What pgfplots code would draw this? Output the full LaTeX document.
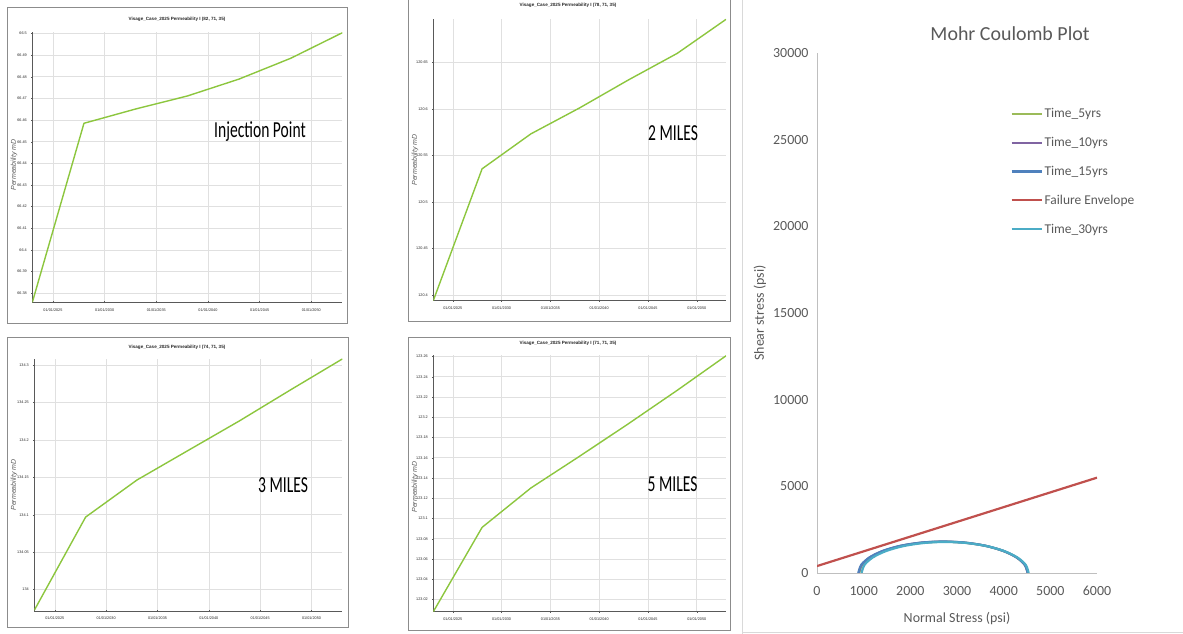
\documentclass[border=0pt]{standalone}
\usepackage{fontspec}
\setmainfont{Carlito}
\newfontfamily\arialfont{Liberation Sans}
\usepackage{pgfplots}
\pgfplotsset{compat=1.18}
\definecolor{permgreen}{HTML}{8CC63E}
\definecolor{xlgreen}{HTML}{9BBB59}
\definecolor{xlpurple}{HTML}{8064A2}
\definecolor{xlblue}{HTML}{4F81BD}
\definecolor{xlred}{HTML}{C0504D}
\definecolor{xlcyan}{HTML}{4BACC6}
\definecolor{xlgray}{HTML}{595959}
\pgfplotsset{
 perm/.style={
  scale only axis, axis lines=left, axis line style={draw=black!65, line width=0.5bp, -},
  grid=major, major grid style={draw=black!12, line width=0.6bp},
  tick style={draw=black!65, line width=0.4bp}, major tick length=2bp, tick align=center,
  xmin=2023, xmax=2053,
  xtick={2025,2030,2035,2040,2045,2050},
  xticklabels={01/01/2025,01/01/2030,01/01/2035,01/01/2040,01/01/2045,01/01/2050},
  tick label style={font=\arialfont\fontsize{3.8}{4}\selectfont, text=black!85},
  /pgf/number format/assume math mode=true,
  yticklabel style={/pgf/number format/fixed, /pgf/number format/precision=2, xshift=-1bp},
  xticklabel style={yshift=-1.5bp},
  scaled ticks=false,
 },
 pline/.style={permgreen, line width=1.4bp, no marks},
}
\begin{document}
\begin{tikzpicture}[x=1bp,y=1bp]
\path[use as bounding box] (0,0) rectangle (1183,634);
% frames
\draw[black!45, line width=0.8bp] (7,311) rectangle (347,627);
\draw[black!45, line width=0.8bp] (408,313) rectangle (730,640);
\draw[black!45, line width=0.8bp] (7,7) rectangle (348,297);
\draw[black!45, line width=0.8bp] (408,4) rectangle (730,297);
\draw[black!15, line width=0.8bp] (742,-5) rectangle (1190,2);
\draw[black!15, line width=0.8bp] (742,-5) -- (742,640);

% Panel 1
\begin{axis}[perm, at={(32.3bp,331.7bp)}, anchor=south west, width=310bp, height=270.6bp,
  ymin=66.37585, ymax=66.5008,
  ytick={66.38,66.39,66.4,66.41,66.42,66.43,66.44,66.45,66.46,66.47,66.48,66.49,66.5}]
\addplot[pline] coordinates {(2023,66.3758) (2028,66.4585) (2033,66.4651) (2038,66.4711) (2043,66.4789) (2048,66.4885) (2053,66.5003)};
\end{axis}
% Panel 2
\begin{axis}[perm, at={(433.3bp,333.3bp)}, anchor=south west, width=292.7bp, height=281.7bp,
  ymin=120.3942, ymax=120.6965,
  ytick={120.4,120.45,120.5,120.55,120.6,120.65}]
\addplot[pline] coordinates {(2023,120.3943) (2028,120.5357) (2033,120.5732) (2038,120.6011) (2043,120.6311) (2048,120.6596) (2053,120.6961)};
\end{axis}
% Panel 3
\begin{axis}[perm, at={(34.3bp,23bp)}, anchor=south west, width=308bp, height=252bp,
  ymin=133.9715, ymax=134.308,
  ytick={134,134.05,134.1,134.15,134.2,134.25,134.3}]
\addplot[pline] coordinates {(2023,133.9725) (2028,134.0969) (2033,134.1464) (2038,134.186) (2043,134.2255) (2048,134.2671) (2053,134.308)};
\end{axis}
% Panel 4
\begin{axis}[perm, at={(433.3bp,22.3bp)}, anchor=south west, width=292.7bp, height=256.7bp,
  ymin=123.0079, ymax=123.2615,
  ytick={123.02,123.04,123.06,123.08,123.1,123.12,123.14,123.16,123.18,123.2,123.22,123.24,123.26}]
\addplot[pline] coordinates {(2023,123.0079) (2028,123.0912) (2033,123.1301) (2038,123.1615) (2043,123.1936) (2048,123.2266) (2053,123.2607)};
\end{axis}

% panel titles
\node[font=\arialfont\bfseries\fontsize{4.6}{5}\selectfont, text=black!85] at (177,615) {Visage\_Case\_2025 Permeability I (82, 71, 35)};
\node[font=\arialfont\bfseries\fontsize{4.6}{5}\selectfont, text=black!85] at (568,629) {Visage\_Case\_2025 Permeability I (78, 71, 35)};
\node[font=\arialfont\bfseries\fontsize{4.6}{5}\selectfont, text=black!85] at (177,287) {Visage\_Case\_2025 Permeability I (74, 71, 35)};
\node[font=\arialfont\bfseries\fontsize{4.6}{5}\selectfont, text=black!85] at (568,291) {Visage\_Case\_2025 Permeability I (71, 71, 35)};
% y labels
\node[rotate=90, font=\arialfont\itshape\fontsize{7}{7}\selectfont, text=black!65] at (14,469) {Permeability mD};
\node[rotate=90, font=\arialfont\itshape\fontsize{7}{7}\selectfont, text=black!65] at (415,474) {Permeability mD};
\node[rotate=90, font=\arialfont\itshape\fontsize{7}{7}\selectfont, text=black!65] at (14,149) {Permeability mD};
\node[rotate=90, font=\arialfont\itshape\fontsize{7}{7}\selectfont, text=black!65] at (415,147) {Permeability mD};
% annotations
\node[anchor=base, font=\fontsize{23}{23}\selectfont, inner sep=0] at (260,496) {\scalebox{0.68}[1]{Injection Point}};
\node[anchor=base, font=\fontsize{23}{23}\selectfont, inner sep=0] at (673,493) {\scalebox{0.68}[1]{2 MILES}};
\node[anchor=base, font=\fontsize{23}{23}\selectfont, inner sep=0] at (283,141) {\scalebox{0.68}[1]{3 MILES}};
\node[anchor=base, font=\fontsize{23}{23}\selectfont, inner sep=0] at (672.5,142) {\scalebox{0.68}[1]{5 MILES}};

% Mohr Coulomb
\begin{axis}[scale only axis, at={(817bp,61bp)}, anchor=south west, width=280bp, height=520bp,
  xmin=0, xmax=6000, ymin=0, ymax=30000,
  axis lines=left, axis line style={draw=black!25, line width=0.8bp, -},
  xtick={0,1000,2000,3000,4000,5000,6000}, ytick={0,5000,10000,15000,20000,25000,30000},
  major tick length=0pt,
  tick label style={font=\fontsize{14}{14}\selectfont, text=xlgray},
  /pgf/number format/assume math mode=true,
  /pgf/number format/set thousands separator={},
  scaled ticks=false,
  xticklabel style={yshift=-10bp}, yticklabel style={xshift=-5bp},
  legend style={at={(0.69,0.897)}, anchor=north west, draw=none, fill=none,
    font=\fontsize{13.5}{14}\selectfont, text=xlgray, row sep=14bp, inner sep=0pt},
  legend cell align=left,
  legend image code/.code={\draw[#1] (0bp,0bp) -- (30bp,0bp);},
  every axis plot/.append style={line width=2.2bp, no marks},
]
\addplot[xlgreen, smooth] coordinates {(4515,0) (4454,467) (4273,903) (3986,1276) (3613,1563) (3177,1744) (2710,1805) (2243,1744) (1807,1563) (1434,1276) (1147,903) (966,467) (905,0)};
\addlegendentry{Time\_5yrs}
\addplot[xlpurple, smooth] coordinates {(4515,0) (4453,468) (4273,905) (3985,1280) (3610,1568) (3173,1748) (2705,1810) (2237,1748) (1800,1568) (1425,1280) (1137,905) (957,468) (895,0)};
\addlegendentry{Time\_10yrs}
\addplot[xlblue, smooth] coordinates {(4515,0) (4453,470) (4272,908) (3983,1283) (3608,1572) (3170,1753) (2700,1815) (2230,1753) (1792,1572) (1417,1283) (1128,908) (947,470) (885,0)};
\addlegendentry{Time\_15yrs}
\addplot[xlred] coordinates {(0,400) (6000,5500)};
\addlegendentry{Failure Envelope}
\addplot[xlcyan, smooth] coordinates {(4535,0) (4474,463) (4295,895) (4011,1266) (3640,1550) (3208,1729) (2745,1790) (2282,1729) (1850,1550) (1479,1266) (1195,895) (1016,463) (955,0)};
\addlegendentry{Time\_30yrs}
\end{axis}
\node[font=\fontsize{20}{20}\selectfont, text=xlgray] at (1010,600) {Mohr Coulomb Plot};
\node[rotate=90, font=\fontsize{14}{14}\selectfont, text=xlgray] at (760,321) {Shear stress (psi)};
\node[font=\fontsize{14}{14}\selectfont, text=xlgray] at (957,15) {Normal Stress (psi)};
\end{tikzpicture}
\end{document}
